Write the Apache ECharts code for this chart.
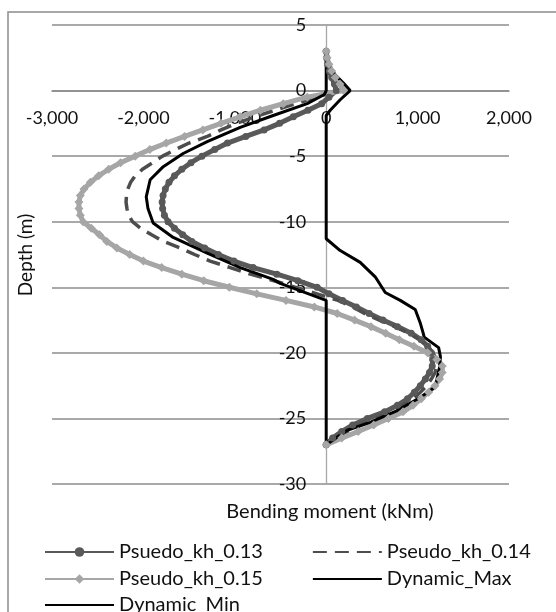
<!DOCTYPE html>
<html>
<head>
<meta charset="utf-8">
<script src="https://cdn.jsdelivr.net/npm/echarts@6/dist/echarts.min.js"></script>
<style>
html,body{margin:0;padding:0;background:#fff;}
#chart{width:556px;height:612px;}
</style>
</head>
<body>
<div id="chart"></div>
<script>
// Depth (m) for pseudo-static series
const depthPseudo = [3, 2.5, 2, 1.5, 1, 0.5, 0, -0.5, -1, -1.5, -2, -2.5, -3, -3.5, -4, -4.5, -5, -5.5, -6, -6.5, -7, -7.5, -8, -8.5, -9, -9.5, -10, -10.5, -11, -11.5, -12, -12.5, -13, -13.5, -14, -14.5, -15, -15.5, -16, -16.5, -17, -17.5, -18, -18.5, -19, -19.5, -20, -20.5, -21, -21.5, -22, -22.5, -23, -23.5, -24, -24.5, -25, -25.5, -26, -26.5, -27];
// Bending moment (kNm)
const psuedoKh013 = [0, 5, 15, 35, 60, 90, 110, 30, -50, -200, -360, -510, -680, -880, -1080, -1220, -1360, -1480, -1580, -1660, -1720, -1760, -1785, -1795, -1790, -1770, -1730, -1660, -1570, -1470, -1330, -1180, -1010, -800, -540, -310, -100, 30, 180, 330, 470, 620, 780, 930, 1040, 1110, 1150, 1165, 1160, 1130, 1085, 1030, 965, 890, 780, 640, 450, 290, 170, 70, 0];
const pseudoKh014 = [0, 5, 20, 40, 70, 100, 130, -100, -330, -560, -780, -980, -1150, -1302, -1500, -1650, -1790, -1900, -2010, -2090, -2140, -2170, -2185, -2190, -2180, -2160, -2120, -2030, -1910, -1780, -1600, -1440, -1270, -1050, -830, -570, -340, -100, 130, 290, 420, 580, 750, 900, 1020, 1110, 1170, 1200, 1210, 1190, 1150, 1100, 1030, 950, 840, 710, 550, 380, 230, 100, 0];
const pseudoKh015 = [0, 10, 30, 60, 100, 150, 190, -208, -470, -720, -941, -1150, -1350, -1550, -1750, -1930, -2090, -2250, -2380, -2490, -2580, -2650, -2690, -2705, -2705, -2690, -2660, -2570, -2480, -2400, -2290, -2150, -2000, -1800, -1580, -1340, -1060, -760, -440, -130, 120, 310, 490, 650, 800, 960, 1110, 1210, 1270, 1270, 1240, 1190, 1120, 1040, 950, 840, 680, 520, 350, 170, 0];
// Dynamic envelopes
const depthDynMax = [3, 2, 1.2, 0.6, 0, -0.7, -1.5, -1.9, -11.3, -12.2, -13.1, -14.2, -15.4, -16.0, -16.7, -17.7, -18.5, -18.8, -19.6, -20.3, -21.1, -22.6, -23.4, -24.4, -25.3, -25.9, -26.8, -27.0];
const dynamicMax = [0, 22, 98, 186, 262, 153, 44, 0, 0, 153, 372, 536, 646, 810, 974, 1028, 1061, 1072, 1230, 1250, 1240, 1192, 1028, 777, 481, 230, 44, 0];
const depthDynMin = [3, 0, -0.3, -1.0, -1.9, -2.8, -3.9, -4.8, -5.8, -6.8, -8.1, -9.0, -10.1, -11.2, -12.4, -13.5, -14.4, -14.7, -16.0, -27.0];
const dynamicMin = [0, 0, -20, -208, -580, -941, -1302, -1565, -1783, -1926, -1969, -1950, -1893, -1674, -1302, -941, -580, -503, 0, 0];

const seriesNames = ['Psuedo_kh_0.13', 'Pseudo_kh_0.14', 'Pseudo_kh_0.15', 'Dynamic_Max', 'Dynamic_Min'];
const xTicks = {min: -3000, max: 2000, step: 1000};
const yTicks = {min: -30, max: 5, step: 5};

function pairs(xs, ys) { return xs.map((v, i) => [v, ys[i]]); }

const FONT = 'Lato';
const TXT = '#111';
const W = 556, H = 612;
const G = {left: 52, right: 47, top: 25, bottom: 128};
const gridW = W - G.left - G.right, gridH = H - G.top - G.bottom;
// place the axes where the other axis is zero
const yAxisOffset = -gridW * (0 - xTicks.min) / (xTicks.max - xTicks.min);
const xAxisOffset = -gridH * (0 - yTicks.min) / (yTicks.max - yTicks.min);

const chart = echarts.init(document.getElementById('chart'), null, {renderer: 'canvas'});

const legendCommon = {
  itemWidth: 69, itemHeight: 12, itemGap: 49,
  textStyle: {fontFamily: FONT, fontSize: 20, color: TXT},
  padding: 0, orient: 'horizontal', selectedMode: false
};
const noSym = {opacity: 0};

chart.setOption({
  animation: false,
  backgroundColor: '#fff',
  grid: Object.assign({containLabel: false}, G),
  xAxis: {
    type: 'value', min: xTicks.min, max: xTicks.max, interval: xTicks.step,
    position: 'bottom', offset: xAxisOffset,
    axisLine: {show: true, onZero: false, lineStyle: {color: '#8c8c8c', width: 1.5}},
    axisTick: {show: false},
    splitLine: {show: false},
    axisLabel: {margin: 19, fontFamily: FONT, fontSize: 18, color: TXT,
      formatter: v => v.toLocaleString('en-US')}
  },
  yAxis: {
    type: 'value', min: yTicks.min, max: yTicks.max, interval: yTicks.step,
    position: 'left', offset: yAxisOffset,
    axisLine: {show: true, onZero: false, lineStyle: {color: '#a6a6a6', width: 1.3}},
    axisTick: {show: false},
    splitLine: {show: true, lineStyle: {color: '#8c8c8c', width: 1.5}},
    axisLabel: {margin: 20, fontFamily: FONT, fontSize: 18, color: TXT}
  },
  legend: [
    Object.assign({}, legendCommon, {left: 44, top: 542, data: [seriesNames[0], {name: seriesNames[1], itemStyle: noSym}]}),
    Object.assign({}, legendCommon, {left: 44, top: 569, data: [seriesNames[2], {name: seriesNames[3], itemStyle: noSym}]}),
    Object.assign({}, legendCommon, {left: 44, top: 595, data: [{name: seriesNames[4], itemStyle: noSym}]})
  ],
  graphic: [
    {type: 'rect', shape: {x: 8, y: 12, width: 620, height: 650}, style: {fill: 'none', stroke: '#8c8c8c', lineWidth: 1.5}, silent: true},
    {type: 'text', x: 26, y: 255, rotation: Math.PI / 2,
      style: {text: 'Depth (m)', fontFamily: FONT, fontSize: 19, fill: TXT, textAlign: 'center', textVerticalAlign: 'middle'}},
    {type: 'text', x: 330, y: 512,
      style: {text: 'Bending moment (kNm)', fontFamily: FONT, fontSize: 20, fill: TXT, textAlign: 'center', textVerticalAlign: 'middle'}}
  ],
  series: [
    {name: seriesNames[0], type: 'line', data: pairs(psuedoKh013, depthPseudo),
      symbol: 'circle', symbolSize: 7, showSymbol: true,
      lineStyle: {color: '#595959', width: 5}, itemStyle: {color: '#595959'}},
    {name: seriesNames[1], type: 'line', data: pairs(pseudoKh014, depthPseudo),
      symbol: 'none', showSymbol: false,
      lineStyle: {color: '#4d4d4d', width: 3.5, type: [14, 8]}, itemStyle: {color: '#4d4d4d'}},
    {name: seriesNames[2], type: 'line', data: pairs(pseudoKh015, depthPseudo),
      symbol: 'diamond', symbolSize: 9, showSymbol: true,
      lineStyle: {color: '#a6a6a6', width: 5}, itemStyle: {color: '#a6a6a6'}},
    {name: seriesNames[3], type: 'line', data: pairs(dynamicMax, depthDynMax),
      symbol: 'none', showSymbol: false,
      lineStyle: {color: '#000', width: 3}, itemStyle: {color: '#000'}},
    {name: seriesNames[4], type: 'line', data: pairs(dynamicMin, depthDynMin),
      symbol: 'none', showSymbol: false,
      lineStyle: {color: '#000', width: 3}, itemStyle: {color: '#000'}}
  ]
});
</script>
</body>
</html>
